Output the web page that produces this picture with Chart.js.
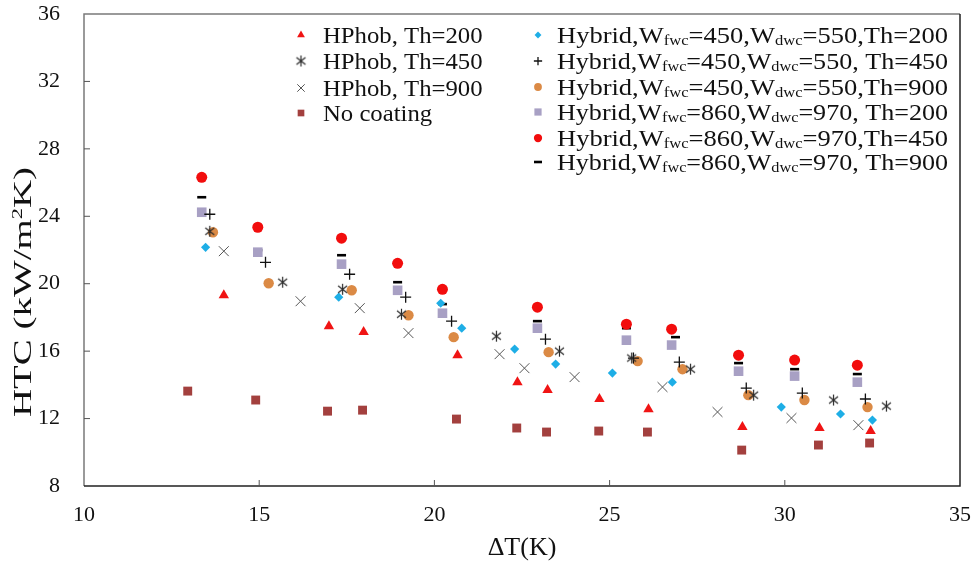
<!DOCTYPE html>
<html>
<head>
<meta charset="utf-8">
<script src="https://cdn.jsdelivr.net/npm/chart.js@4.4.1/dist/chart.umd.min.js"></script>
<style>
  html, body { margin: 0; padding: 0; background: #fff; }
  canvas { display: block; }
</style>
</head>
<body>
<canvas id="myChart" width="973" height="561"></canvas>
<script>
// HTC against wall superheat

const xTicks = [10, 15, 20, 25, 30, 35];
const yTicks = [8, 12, 16, 20, 24, 28, 32, 36];

const seriesLabels = [
  'HPhob, Th=200',
  'HPhob, Th=450',
  'HPhob, Th=900',
  'No coating',
  'Hybrid,W_fwc=450,W_dwc=550,Th=200',
  'Hybrid,W_fwc=450,W_dwc=550, Th=450',
  'Hybrid,W_fwc=450,W_dwc=550,Th=900',
  'Hybrid,W_fwc=860,W_dwc=970, Th=200',
  'Hybrid,W_fwc=860,W_dwc=970,Th=450',
  'Hybrid,W_fwc=860,W_dwc=970, Th=900'
];

const hphob200X = [13.99, 16.99, 17.98, 20.66, 22.37, 23.23, 24.71, 26.11, 28.79, 30.99, 32.45];
const hphob200Y = [19.32, 17.48, 17.13, 15.76, 14.16, 13.69, 13.16, 12.56, 11.50, 11.44, 11.26];

const hphob450X = [13.59, 15.67, 17.38, 19.06, 21.77, 23.57, 25.63, 27.31, 29.11, 31.39, 32.90];
const hphob450Y = [23.11, 20.09, 19.67, 18.19, 16.89, 16.00, 15.59, 14.93, 13.39, 13.10, 12.74];

const hphob900X = [13.99, 16.18, 17.87, 19.26, 21.86, 22.57, 24.00, 26.51, 28.08, 30.19, 32.10];
const hphob900Y = [21.93, 18.96, 18.55, 17.07, 15.82, 14.99, 14.46, 13.87, 12.39, 12.03, 11.61];

const noCoatX = [12.96, 14.90, 16.95, 17.95, 20.63, 22.35, 23.20, 24.69, 26.08, 28.77, 30.96, 32.42];
const noCoatY = [13.63, 13.10, 12.44, 12.50, 11.97, 11.44, 11.20, 11.26, 11.20, 10.13, 10.43, 10.55];

const hyb450th200X = [13.47, 17.27, 20.18, 20.78, 22.29, 23.46, 25.08, 26.79, 29.90, 31.59, 32.50];
const hyb450th200Y = [22.16, 19.20, 18.84, 17.36, 16.12, 15.23, 14.70, 14.16, 12.68, 12.27, 11.91];

const hyb450th450X = [13.59, 15.18, 17.58, 19.18, 20.49, 23.17, 25.68, 26.99, 28.90, 30.50, 32.30];
const hyb450th450Y = [24.12, 21.27, 20.56, 19.20, 17.78, 16.71, 15.59, 15.35, 13.81, 13.51, 13.16];

const hyb450th900X = [13.68, 15.27, 17.64, 19.26, 20.55, 23.26, 25.80, 27.08, 28.96, 30.56, 32.36];
const hyb450th900Y = [23.05, 20.03, 19.61, 18.13, 16.83, 15.94, 15.41, 14.93, 13.39, 13.10, 12.68];

const hyb860X = [13.36, 14.96, 17.35, 18.95, 20.23, 22.94, 25.48, 26.77, 28.68, 30.28, 32.07];
const hyb860th200Y = [24.24, 21.87, 21.16, 19.61, 18.25, 17.36, 16.65, 16.36, 14.81, 14.52, 14.16];
const hyb860th450Y = [26.31, 23.35, 22.70, 21.21, 19.67, 18.61, 17.60, 17.30, 15.76, 15.47, 15.17];
const hyb860th900X = [13.36, 14.96, 17.35, 18.95, 20.23, 22.94, 25.48, 26.88, 28.68, 30.28, 32.07];
const hyb860th900Y = [25.13, 21.99, 21.69, 20.09, 18.79, 17.78, 17.36, 16.83, 15.29, 14.93, 14.64];

const seriesX = [hphob200X, hphob450X, hphob900X, noCoatX, hyb450th200X, hyb450th450X, hyb450th900X, hyb860X, hyb860X, hyb860th900X];
const seriesY = [hphob200Y, hphob450Y, hphob900Y, noCoatY, hyb450th200Y, hyb450th450Y, hyb450th900Y, hyb860th200Y, hyb860th450Y, hyb860th900Y];

// six-armed asterisk marker
function makeAsterisk() {
  const c = document.createElement('canvas');
  c.width = 13; c.height = 13;
  const g = c.getContext('2d');
  g.strokeStyle = '#2a2a2a';
  g.lineWidth = 1.2;
  g.beginPath();
  g.moveTo(6.5, 1); g.lineTo(6.5, 12);
  g.moveTo(2, 3); g.lineTo(11, 10);
  g.moveTo(11, 3); g.lineTo(2, 10);
  g.stroke();
  return c;
}
const asterisk = makeAsterisk();

const styles = [
  {pointStyle: 'triangle', radius: 6, bg: '#f01414', border: '#f01414', bw: 0},
  {pointStyle: asterisk, radius: 6, bg: '#2a2a2a', border: '#2a2a2a', bw: 1},
  {pointStyle: 'crossRot', radius: 7, bg: '#555', border: '#555', bw: 1},
  {pointStyle: 'rect', radius: 6.3, bg: '#a3403e', border: '#a3403e', bw: 0},
  {pointStyle: 'rectRot', radius: 4.6, bg: '#1eaee6', border: '#1eaee6', bw: 0},
  {pointStyle: 'cross', radius: 5.5, bg: '#111', border: '#111', bw: 1.3},
  {pointStyle: 'circle', radius: 5.2, bg: '#db8a45', border: '#db8a45', bw: 0},
  {pointStyle: 'rect', radius: 6.8, bg: '#a8a0c4', border: '#a8a0c4', bw: 0},
  {pointStyle: 'circle', radius: 5.5, bg: '#f20d0d', border: '#f20d0d', bw: 0},
  {pointStyle: 'line', radius: 4.5, bg: '#000', border: '#000', bw: 2.6}
];

const datasets = seriesLabels.map((label, i) => ({
  label: label.replace(/_/g, ''),
  data: seriesX[i].map((x, k) => ({x: x, y: seriesY[i][k]})),
  showLine: false,
  pointStyle: styles[i].pointStyle,
  pointRadius: styles[i].radius,
  pointHoverRadius: styles[i].radius,
  pointBackgroundColor: styles[i].bg,
  pointBorderColor: styles[i].border,
  pointBorderWidth: styles[i].bw
}));

const serif = "'Liberation Serif', 'DejaVu Serif', serif";

// box and inward tick marks
const frame = {
  id: 'frame',
  beforeDatasetsDraw(chart) {
    const {ctx, chartArea: a, scales} = chart;
    ctx.save();
    ctx.lineWidth = 1.5;
    ctx.strokeStyle = '#7a7a7a';
    ctx.beginPath();
    ctx.moveTo(a.left, a.bottom); ctx.lineTo(a.left, a.top); ctx.lineTo(a.right, a.top);
    ctx.stroke();
    ctx.strokeStyle = '#222';
    ctx.beginPath();
    ctx.moveTo(a.left, a.bottom); ctx.lineTo(a.right, a.bottom); ctx.lineTo(a.right, a.top);
    ctx.stroke();
    ctx.lineWidth = 1;
    ctx.strokeStyle = '#555';
    scales.x.ticks.forEach(t => {
      const px = scales.x.getPixelForValue(t.value);
      if (px > a.left + 2 && px < a.right - 2) {
        ctx.beginPath(); ctx.moveTo(px, a.bottom); ctx.lineTo(px, a.bottom - 6); ctx.stroke();
      }
    });
    scales.y.ticks.forEach(t => {
      const py = scales.y.getPixelForValue(t.value);
      if (py > a.top + 2 && py < a.bottom - 2) {
        ctx.beginPath(); ctx.moveTo(a.left, py); ctx.lineTo(a.left + 6, py); ctx.stroke();
      }
    });
    ctx.restore();
  }
};

// text with sub/superscript parts, stretched to a given width when asked
function richWidth(ctx, parts, big, small) {
  let w = 0;
  parts.forEach((p, i) => {
    ctx.font = (i % 2 ? small : big) + 'px ' + serif;
    w += ctx.measureText(p).width;
  });
  return w;
}
function drawRich(ctx, parts, x, y, big, small, shift, sx) {
  ctx.save();
  ctx.translate(x, y);
  ctx.scale(sx, 1);
  let cx = 0;
  parts.forEach((p, i) => {
    ctx.font = (i % 2 ? small : big) + 'px ' + serif;
    ctx.fillText(p, cx, i % 2 ? shift : 0);
    cx += ctx.measureText(p).width;
  });
  ctx.restore();
}

const legendAndTitle = {
  id: 'legendAndTitle',
  afterDraw(chart) {
    const ctx = chart.ctx;
    ctx.save();
    ctx.fillStyle = '#111';
    ctx.textBaseline = 'alphabetic';
    ctx.textAlign = 'left';

    const leftRows = [35, 61, 88, 113];
    const rightRows = [35, 61, 87, 112, 138, 162];
    seriesLabels.forEach((label, i) => {
      const st = styles[i];
      const left = i < 4;
      const cy = left ? leftRows[i] : rightRows[i - 4];
      const mx = left ? 301 : 538;
      ctx.save();
      ctx.fillStyle = st.bg;
      ctx.strokeStyle = st.border;
      ctx.lineWidth = st.bw;
      Chart.helpers.drawPoint(ctx, {
        pointStyle: st.pointStyle,
        radius: st.pointStyle === 'line' ? 4 : st.radius * 0.75,
        rotation: 0,
        borderWidth: st.bw
      }, mx, cy);
      ctx.restore();

      const parts = label.split(/_([a-z]+)/);
      if (left) {
        drawRich(ctx, parts, 323, cy + 8, 24, 15, 2, 1.03);
      } else {
        const w = richWidth(ctx, parts, 24, 15);
        drawRich(ctx, parts, 557, cy + 8, 24, 15, 2, 391 / w);
      }
    });

    // y axis title, centred lower than the axis middle as in the figure
    const yParts = ['HTC (kW/m', '2', 'K)'];
    const yw = richWidth(ctx, yParts, 26, 15);
    ctx.save();
    ctx.translate(31, 292);
    ctx.rotate(-Math.PI / 2);
    drawRich(ctx, yParts, -125, 0, 26, 15, -9, 250 / yw);
    ctx.restore();
    ctx.restore();
  }
};

// drop the label overflow padding so the plot box sits where the figure has it
function fixBox(s, size) {
  if (s.isHorizontal()) s.height = size; else s.width = size;
  s.paddingLeft = 0; s.paddingRight = 0; s.paddingTop = 0; s.paddingBottom = 0;
}

new Chart(document.getElementById('myChart'), {
  type: 'scatter',
  data: {datasets: datasets},
  options: {
    responsive: false,
    animation: false,
    layout: {padding: {left: 0, right: 13, top: 14, bottom: 0}},
    plugins: {legend: {display: false}, tooltip: {enabled: false}},
    scales: {
      x: {
        type: 'linear',
        min: xTicks[0],
        max: xTicks[xTicks.length - 1],
        afterBuildTicks: s => { s.ticks = xTicks.map(v => ({value: v})); },
        afterFit: s => fixBox(s, 75),
        grid: {display: false},
        border: {display: false},
        ticks: {color: '#111', font: {family: serif, size: 22}, padding: 8, maxRotation: 0},
        title: {display: true, text: 'ΔT(K)', color: '#111', font: {family: serif, size: 26, lineHeight: 1.0}, padding: {top: 0, bottom: 0}}
      },
      y: {
        type: 'linear',
        min: yTicks[0],
        max: yTicks[yTicks.length - 1],
        afterBuildTicks: s => { s.ticks = yTicks.map(v => ({value: v})); },
        afterFit: s => fixBox(s, 84),
        grid: {display: false},
        border: {display: false},
        ticks: {color: '#111', font: {family: serif, size: 22}, padding: 16}
      }
    }
  },
  plugins: [frame, legendAndTitle]
});
</script>
</body>
</html>
